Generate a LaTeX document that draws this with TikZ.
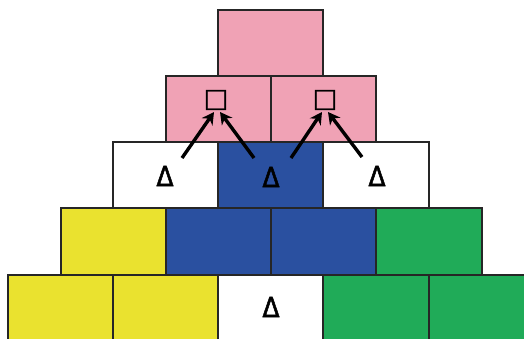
\documentclass[tikz,border=0pt]{standalone}
\usepackage{fontspec}
\setmainfont{DejaVu Sans}
\newfontfamily\symfont[FakeBold=1.6]{DejaVu Sans Condensed}
\newfontfamily\sqfont[FakeBold=1.5]{DejaVu Sans}
\usetikzlibrary{arrows.meta}
\definecolor{pk}{HTML}{F0A2B5}
\definecolor{bl}{HTML}{2A50A0}
\definecolor{yl}{HTML}{EAE22F}
\definecolor{gr}{HTML}{20AB58}
\tikzset{
  blk/.style={draw=black!85, line width=1.5pt},
  sym/.style={font=\symfont\fontsize{28}{28}\selectfont, inner sep=0pt},
  sq/.style={font=\sqfont\fontsize{26}{26}\selectfont, inner sep=0pt},
  arr/.style={line width=3.4pt, -{Stealth[length=12pt,width=13pt]}}
}
\begin{document}
\begin{tikzpicture}[x=1pt,y=-1pt]
\useasboundingbox (0,0) rectangle (524,338);
\begin{scope}
\clip (0,0) rectangle (524,338);
% row 1
\filldraw[blk,fill=pk] (218,10) rectangle (323,76);
% row 2
\filldraw[blk,fill=pk] (166,76) rectangle (271,142);
\filldraw[blk,fill=pk] (271,76) rectangle (376,142);
% row 3
\filldraw[blk,fill=white] (113,142) rectangle (218,208);
\filldraw[blk,fill=bl] (218,142) rectangle (323,208);
\filldraw[blk,fill=white] (323,142) rectangle (429,208);
% row 4
\filldraw[blk,fill=yl] (61,208) rectangle (166,275);
\filldraw[blk,fill=bl] (166,208) rectangle (271,275);
\filldraw[blk,fill=bl] (271,208) rectangle (376,275);
\filldraw[blk,fill=gr] (376,208) rectangle (482,275);
% row 5
\filldraw[blk,fill=yl] (8,275) rectangle (113,345);
\filldraw[blk,fill=yl] (113,275) rectangle (218,345);
\filldraw[blk,fill=white] (218,275) rectangle (323,345);
\filldraw[blk,fill=gr] (323,275) rectangle (429,345);
\filldraw[blk,fill=gr] (429,275) rectangle (534,345);
\end{scope}
% symbols
\node[sq] (s1) at (216,100) {□};
\node[sq] (s2) at (325,100) {□};
\node[sym] (t1) at (165,176) {Δ};
\node[sym] (t2) at (271,177) {Δ};
\node[sym] (t3) at (377,176) {Δ};
\node[sym] (t4) at (271,307) {Δ};
\coordinate (a1) at (182,158);
\coordinate (a2) at (254,158);
\coordinate (a3) at (291,158);
\coordinate (a4) at (362,157);
\coordinate (e1) at (214,112);
\coordinate (e2) at (220,112);
\coordinate (e3) at (322,112);
\coordinate (e4) at (328,112);
\draw[arr] (a1) -- (e1);
\draw[arr] (a2) -- (e2);
\draw[arr] (a3) -- (e3);
\draw[arr] (a4) -- (e4);
\end{tikzpicture}
\end{document}
